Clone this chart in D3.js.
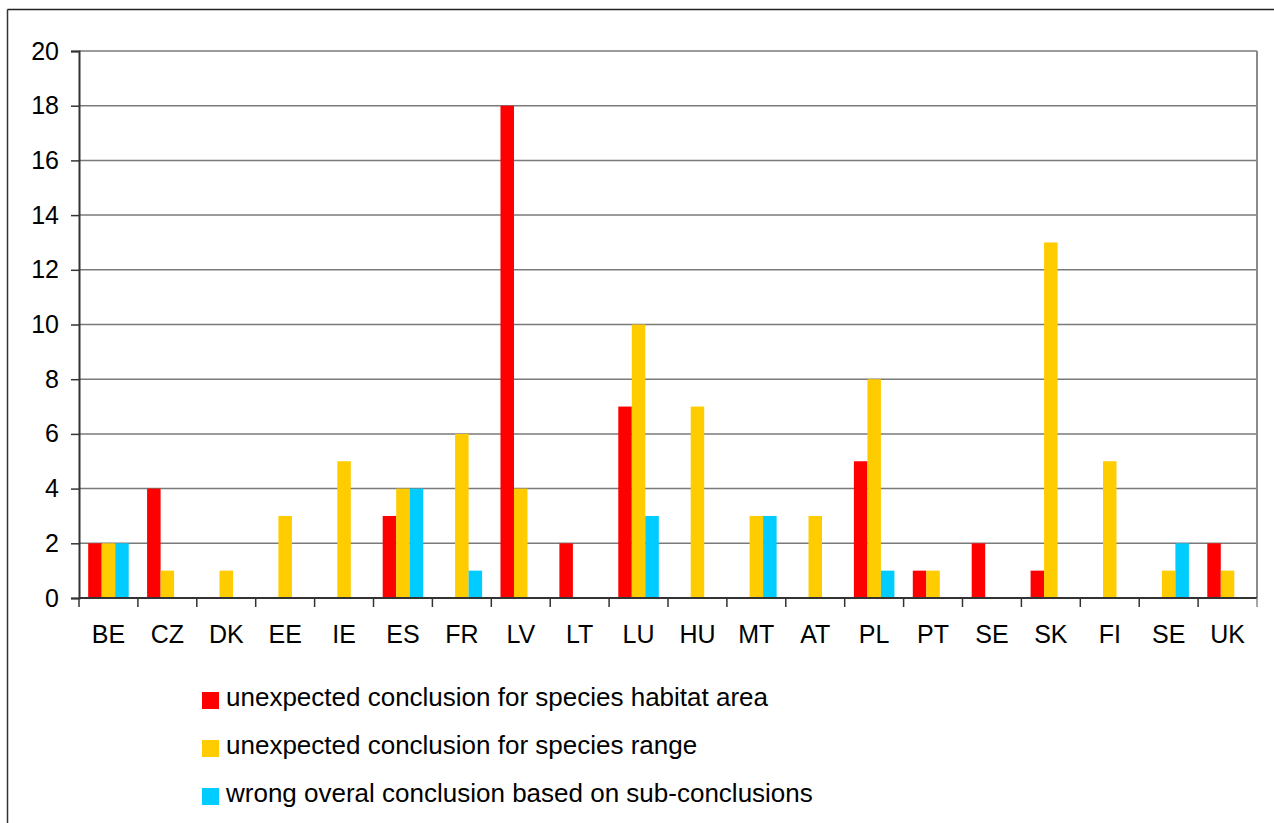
<!DOCTYPE html>
<html>
<head>
<meta charset="utf-8">
<script src="https://cdn.jsdelivr.net/npm/d3@7"></script>
<style>
  html, body { margin: 0; padding: 0; background: #fff; }
  svg { display: block; font-family: "Liberation Sans", Arial, sans-serif; }
</style>
</head>
<body>
<svg id="chart" width="1274" height="823"></svg>
<script>
// Countries along the x axis (SE appears twice in the source table)
const countries = ["BE","CZ","DK","EE","IE","ES","FR","LV","LT","LU","HU","MT","AT","PL","PT","SE","SK","FI","SE","UK"];

// Counts per country for each issue type
const habitatArea  = [2,4,0,0,0,3,0,18,2,7,0,0,0,5,1,2,1,0,0,2];
const speciesRange = [2,1,1,3,5,4,6,4,0,10,7,3,3,8,1,0,13,5,1,1];
const overallWrong = [2,0,0,0,0,4,1,0,0,3,0,3,0,1,0,0,0,0,2,0];

const seriesNames = [
  "unexpected conclusion for species habitat area",
  "unexpected conclusion for species range",
  "wrong overal conclusion based on sub-conclusions"
];
const seriesColors = ["#ff0000", "#ffcc00", "#00ccff"];
const yTicks = [0,2,4,6,8,10,12,14,16,18,20];

const series = [habitatArea, speciesRange, overallWrong];

const svg = d3.select("#chart");
const plot = { left: 79, right: 1257, top: 51, bottom: 598 };

// Outer frame (top and left edges visible)
svg.append("line").attr("x1", 7.5).attr("x2", 1274).attr("y1", 9.5).attr("y2", 9.5)
  .attr("stroke", "#222").attr("stroke-width", 1.5);
svg.append("line").attr("x1", 7.5).attr("x2", 7.5).attr("y1", 9.5).attr("y2", 823)
  .attr("stroke", "#333").attr("stroke-width", 1.5);

const x0 = d3.scaleBand()
  .domain(d3.range(countries.length))
  .range([plot.left, plot.right])
  .padding(0);

const x1 = d3.scaleBand()
  .domain(d3.range(series.length))
  .range([0, x0.bandwidth()])
  .paddingInner(0)
  .paddingOuter(0.68);

const y = d3.scaleLinear().domain([0, 20]).range([plot.bottom, plot.top]);

// Horizontal gridlines
svg.append("g")
  .selectAll("line")
  .data(yTicks.filter(t => t > 0))
  .join("line")
  .attr("x1", plot.left).attr("x2", plot.right)
  .attr("y1", d => y(d)).attr("y2", d => y(d))
  .attr("stroke", "#7a7a7a").attr("stroke-width", 1.5);

// Right edge of the plot area
svg.append("line")
  .attr("x1", plot.right).attr("x2", plot.right)
  .attr("y1", plot.top).attr("y2", plot.bottom)
  .attr("stroke", "#8a8a8a").attr("stroke-width", 2);

// Bars
const groups = svg.append("g")
  .selectAll("g")
  .data(countries.map((c, i) => ({ c, i })))
  .join("g")
  .attr("transform", d => `translate(${x0(d.i)},0)`);

groups.selectAll("rect")
  .data(d => series.map((s, k) => ({ k, v: s[d.i] })).filter(e => e.v > 0))
  .join("rect")
  .attr("x", e => x1(e.k))
  .attr("width", x1.bandwidth())
  .attr("y", e => y(e.v))
  .attr("height", e => y(0) - y(e.v))
  .attr("fill", e => seriesColors[e.k]);

// Y axis
const yAxis = d3.axisLeft(y).tickValues(yTicks).tickSize(8).tickPadding(12);
const gy = svg.append("g").attr("transform", `translate(${plot.left},0)`).call(yAxis);
gy.select(".domain").attr("stroke", "#333").attr("stroke-width", 2);
gy.selectAll(".tick line").attr("stroke", "#333").attr("stroke-width", 1.5);
gy.selectAll("text").attr("font-size", "25px").attr("fill", "#000")
  .attr("font-family", "'Liberation Sans', Arial, sans-serif");

// X axis: ticks between categories, labels centred in each band
const gx = svg.append("g").attr("transform", `translate(0,${plot.bottom})`);
gx.append("line").attr("x1", plot.left).attr("x2", plot.right)
  .attr("y1", 0).attr("y2", 0).attr("stroke", "#333").attr("stroke-width", 2);
gx.selectAll("line.tk")
  .data(d3.range(countries.length + 1))
  .join("line")
  .attr("class", "tk")
  .attr("x1", i => i < countries.length ? x0(i) : plot.right)
  .attr("x2", i => i < countries.length ? x0(i) : plot.right)
  .attr("y1", 0).attr("y2", 9)
  .attr("stroke", i => i === countries.length ? "#8a8a8a" : "#333")
  .attr("stroke-width", 1.5);
gx.selectAll("text")
  .data(countries.map((c, i) => ({ c, i })))
  .join("text")
  .attr("x", d => x0(d.i) + x0.bandwidth() / 2)
  .attr("y", 45)
  .attr("text-anchor", "middle")
  .attr("font-size", "25px")
  .attr("fill", "#000")
  .text(d => d.c);

// Legend
const legend = svg.append("g").attr("transform", "translate(202,692)");
const items = legend.selectAll("g")
  .data(seriesNames.map((n, k) => ({ n, k })))
  .join("g")
  .attr("transform", d => `translate(0,${d.k * 48})`);
items.append("rect").attr("width", 17).attr("height", 17)
  .attr("fill", d => seriesColors[d.k]);
items.append("text")
  .attr("x", 24).attr("y", 14)
  .attr("font-size", "26px")
  .attr("fill", "#000")
  .text(d => d.n);
</script>
</body>
</html>
